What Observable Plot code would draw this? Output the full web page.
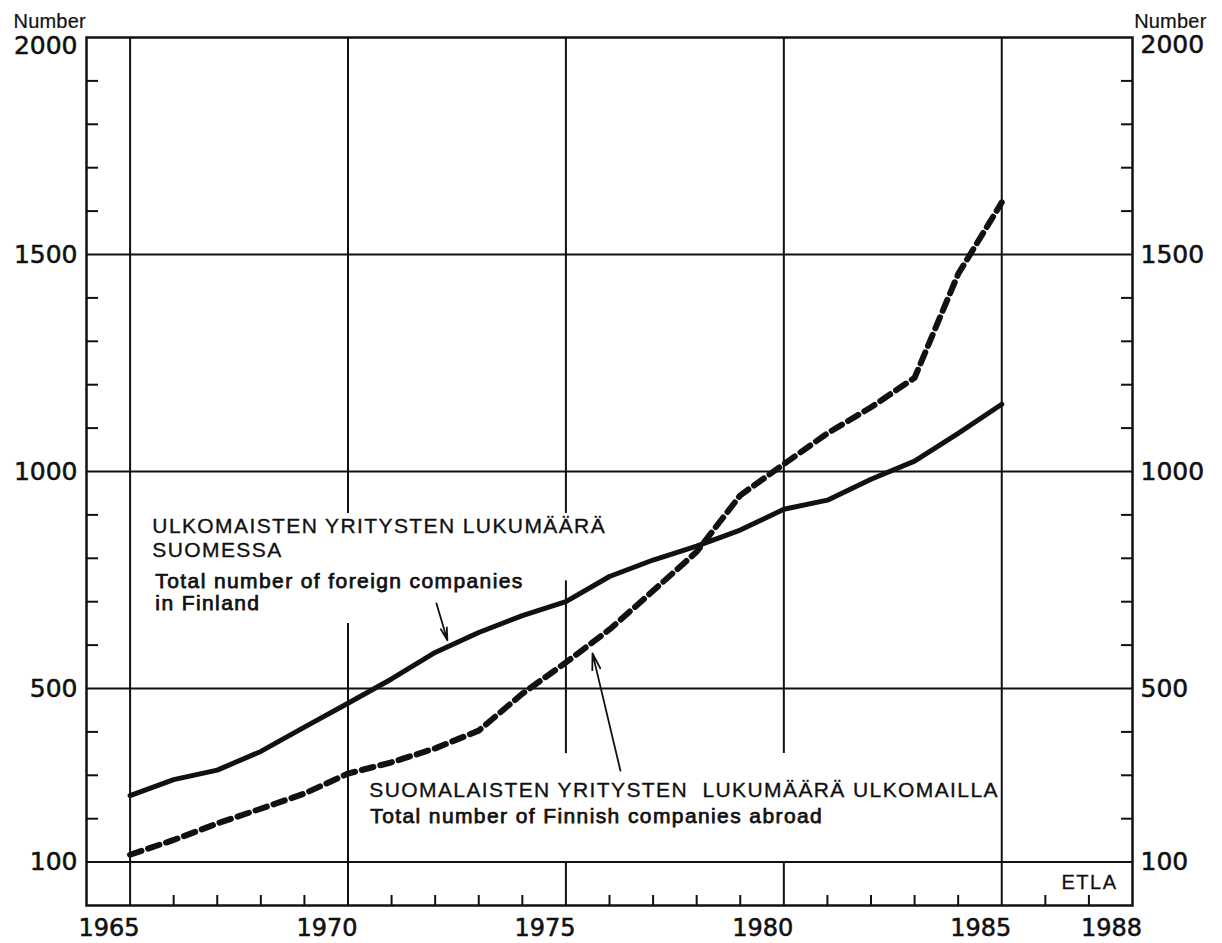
<!DOCTYPE html>
<html>
<head>
<meta charset="utf-8">
<script src="https://cdn.jsdelivr.net/npm/d3@7"></script>
<script src="https://cdn.jsdelivr.net/npm/@observablehq/plot@0.6"></script>
<style>
html, body { margin: 0; padding: 0; background: #fff; }
svg { display: block; }
</style>
</head>
<body>
<div id="chart"></div>
<script>
// ---- data ----
const years = [1965,1966,1967,1968,1969,1970,1971,1972,1973,1974,1975,1976,1977,1978,1979,1980,1981,1982,1983,1984,1985];
const foreignInFinland = [253,290,312,355,411,466,522,583,629,668,700,758,796,828,865,913,934,982,1024,1088,1155];
const finnishAbroad   = [117,151,189,223,258,304,330,362,403,488,560,636,725,815,945,1017,1088,1148,1216,1455,1620];

const xTickLabels = [1965,1970,1975,1980,1985,1988];
const xMinorTicks = [1966,1967,1968,1969,1971,1972,1973,1974,1976,1977,1978,1979,1981,1982,1983,1984,1986,1987];
const yTickLabels = [100,500,1000,1500];
const yTopLabel = [2000];
const yMinorTicks = [200,300,400,600,700,800,900,1100,1200,1300,1400,1600,1700,1800,1900];
const hGrid = [100,500,1000,1500];

// vertical grid segments (interrupted where labels sit)
const vGridYear = [1965,1970,1970,1975,1975,1975,1980,1980,1985];
const vGridFrom = [0,   0,   903, 0,   350, 903, 0,   350, 0];
const vGridTo   = [2000,650, 2000,100, 748, 2000,100, 2000,2000];

const labelFiCaps = ["ULKOMAISTEN YRITYSTEN LUKUMÄÄRÄ", "SUOMESSA"];
const labelFiEn = ["Total number of foreign companies", "in Finland"];
const labelAbCaps = "SUOMALAISTEN YRITYSTEN  LUKUMÄÄRÄ ULKOMAILLA";
const labelAbEn = "Total number of Finnish companies abroad";
const unitLabel = "Number";
const sourceLabel = "ETLA";

// ---- tables ----
const foreign = years.map((y, i) => ({year: y, value: foreignInFinland[i]}));
const finnish = years.map((y, i) => ({year: y, value: finnishAbroad[i]}));
const vGrid = vGridYear.map((y, i) => ({year: y, from: vGridFrom[i], to: vGridTo[i]}));

const ink = "#111";
const capsFont = {fontFamily: "Liberation Sans", fontSize: 21, textAnchor: "start", lineAnchor: "bottom", fill: ink};
const enFont = {fontFamily: "Liberation Sans", fontSize: 21, textAnchor: "start", lineAnchor: "bottom", fill: ink};

const plot = Plot.plot({
  width: 1222,
  height: 943,
  marginTop: 37,
  marginRight: 90,
  marginBottom: 38,
  marginLeft: 86,
  style: {fontFamily: "DejaVu Sans", background: "#fff", color: ink},
  x: {domain: [1964, 1988], axis: null, label: null},
  y: {domain: [0, 2000], axis: null, label: null},
  marks: [
    Plot.ruleY(hGrid, {stroke: ink, strokeWidth: 2}),
    Plot.ruleX(vGrid, {x: "year", y1: "from", y2: "to", stroke: ink, strokeWidth: 2}),
    Plot.axisX(xMinorTicks, {anchor: "bottom", tickSize: -10, tickFormat: () => "", strokeWidth: 2, label: null}),
    Plot.axisY(yMinorTicks, {anchor: "left", tickSize: -12, tickFormat: () => "", strokeWidth: 2, label: null}),
    Plot.axisY(yMinorTicks, {anchor: "right", tickSize: -12, tickFormat: () => "", strokeWidth: 2, label: null}),
    Plot.axisX(xTickLabels, {anchor: "bottom", tickSize: 0, tickPadding: 13, dx: -21, fontSize: 24, tickFormat: d => String(d), label: null}),
    Plot.axisY(yTickLabels, {anchor: "left", tickSize: 0, tickPadding: 9, fontSize: 25, tickFormat: d => String(d), label: null}),
    Plot.axisY(yTopLabel, {anchor: "left", tickSize: 0, tickPadding: 9, fontSize: 25, dy: 8, tickFormat: d => String(d), label: null}),
    Plot.axisY(yTickLabels, {anchor: "right", tickSize: 0, tickPadding: 8, fontSize: 25, tickFormat: d => String(d), label: null}),
    Plot.axisY(yTopLabel, {anchor: "right", tickSize: 0, tickPadding: 8, fontSize: 25, dy: 7, tickFormat: d => String(d), label: null}),
    Plot.line(finnish, {x: "year", y: "value", stroke: ink, strokeWidth: 6, strokeDasharray: "12,7"}),
    Plot.line(foreign, {x: "year", y: "value", stroke: ink, strokeWidth: 5, strokeLinejoin: "round"}),
    Plot.frame({stroke: ink, strokeWidth: 2.5}),
    Plot.arrow([0], {x1: 1972.03, y1: 696, x2: 1972.28, y2: 611, stroke: ink, strokeWidth: 1.8, headLength: 14, headAngle: 28}),
    Plot.arrow([0], {x1: 1976.25, y1: 311, x2: 1975.61, y2: 581, stroke: ink, strokeWidth: 1.8, headLength: 14, headAngle: 28}),
    Plot.text([labelFiCaps.join("\n")], {x: 1965.51, y: 804, lineHeight: 1.12, ...capsFont}),
    Plot.text([labelFiEn.join("\n")], {x: 1965.58, y: 680, lineHeight: 1.05, ...enFont}),
    Plot.text([labelAbCaps], {x: 1970.49, y: 249, ...capsFont}),
    Plot.text([labelAbEn], {x: 1970.51, y: 191, ...enFont}),
    Plot.text([sourceLabel], {frameAnchor: "bottom-right", dx: -15, dy: -17, textAnchor: "end", lineAnchor: "bottom", fontFamily: "Liberation Sans", fontSize: 20, fill: ink}),
    Plot.text([unitLabel], {frameAnchor: "top-left", dx: -73, dy: -10, textAnchor: "start", lineAnchor: "bottom", fontFamily: "Liberation Sans", fontSize: 20, fill: ink}),
    Plot.text([unitLabel], {frameAnchor: "top-right", dx: 74, dy: -10, textAnchor: "end", lineAnchor: "bottom", fontFamily: "Liberation Sans", fontSize: 20, fill: ink})
  ]
});

// typographic finishing: letter spacing and a slightly heavier print weight
const styleFor = (txt) => {
  if (txt.startsWith("ULKOMAISTEN") || txt.startsWith("SUOMALAISTEN")) return {ls: 1.4, sw: 0.35};
  if (txt.startsWith("Total number")) return {ls: 1.4, sw: 0.75};
  if (txt === sourceLabel) return {ls: 1.5, sw: 0.3};
  if (txt === unitLabel) return {ls: 0.2, sw: 0.2};
  if (/^\d+$/.test(txt)) return {ls: 0, sw: 0.55};
  return null;
};
plot.querySelectorAll("text").forEach(t => {
  const s = styleFor(t.textContent);
  if (s) {
    t.setAttribute("letter-spacing", s.ls);
    t.setAttribute("stroke", ink);
    t.setAttribute("stroke-width", s.sw);
    t.setAttribute("paint-order", "normal");
    t.style.whiteSpace = "pre";
  }
});

document.getElementById("chart").appendChild(plot);
</script>
</body>
</html>
